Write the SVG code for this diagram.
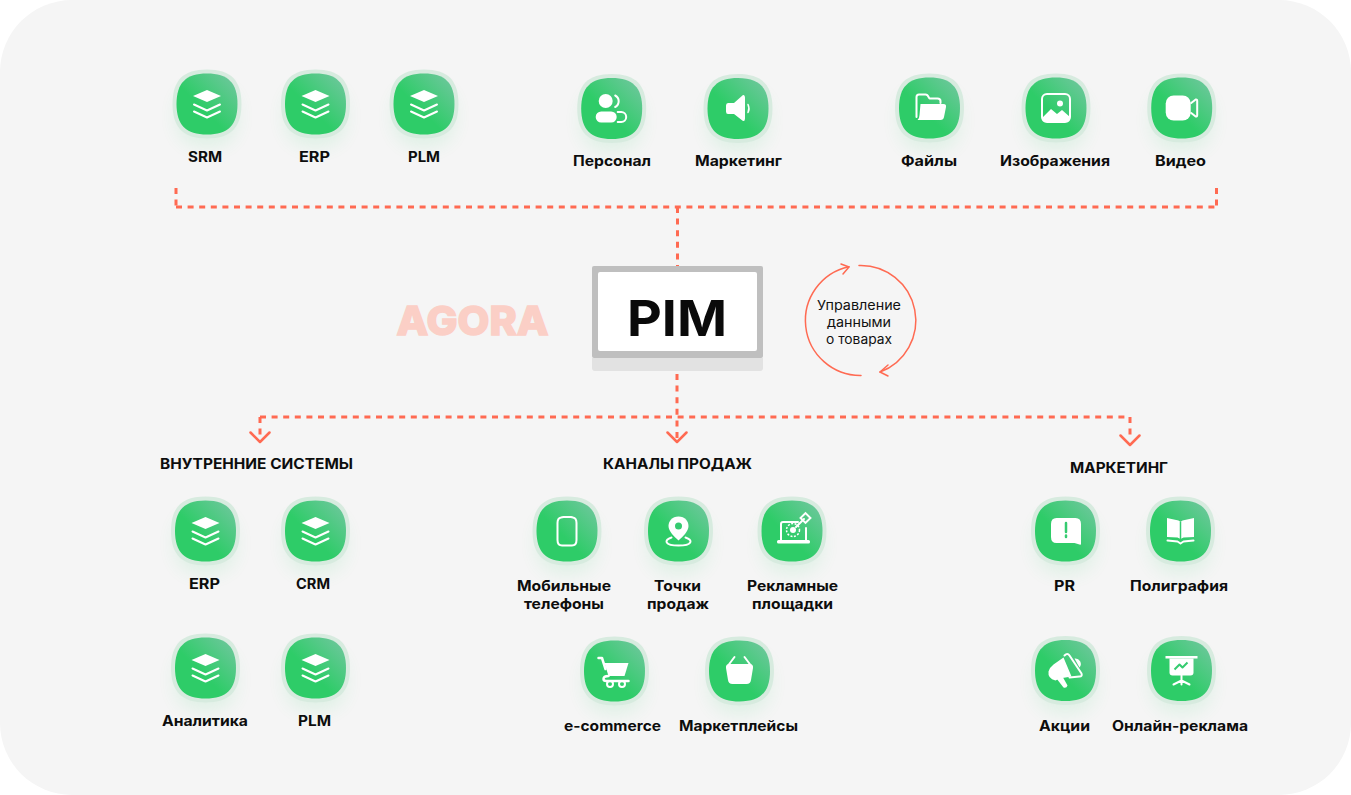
<svg xmlns="http://www.w3.org/2000/svg" width="1351" height="795" viewBox="0 0 1351 795">
<style>
.l{font:700 14px Inter,"Liberation Sans",sans-serif;fill:#0d0d0d;text-anchor:middle}
.d{fill:none;stroke:#ff6a52;stroke-width:3;stroke-dasharray:6 5.6}
.a{fill:none;stroke:#ff6a52;stroke-linecap:round;stroke-linejoin:round}
.w{fill:#fff}
.o{fill:none;stroke:#fff;stroke-width:2;stroke-linecap:round;stroke-linejoin:round}
.c{font:400 13px Inter,"Liberation Sans",sans-serif;fill:#111;text-anchor:middle}
</style>
<defs>
<linearGradient id="gr" x1="0.2" y1="0.8" x2="0.95" y2="0.05"><stop offset="0.3" stop-color="#2ecc68"/><stop offset="1" stop-color="#6fc79d"/></linearGradient>
<filter id="bl" x="-60%" y="-60%" width="220%" height="220%"><feGaussianBlur stdDeviation="9"/></filter>
<path id="sq" d="M0,-30.500C21,-30.500 30.500,-21 30.500,0C30.500,21 21,30.500 0,30.500C-21,30.500 -30.500,21 -30.500,0C-30.500,-21 -21,-30.500 0,-30.500Z"/>
<g id="blob">
<use href="#sq" fill="#2ecc68" opacity=".11" filter="url(#bl)" transform="translate(0,12)"/>
<use href="#sq" fill="#d7ebdf" transform="scale(1.13)"/>
<use href="#sq" fill="url(#gr)"/>
</g>
<g id="i-layers">
<path class="w" d="M0,-14L14,-8L0,-2L-14,-8Z"/>
<path class="o" d="M-13,0.500L0,6.500L13,0.500M-13,7.500L0,13.500L13,7.500"/>
</g>
<g id="i-person">
<circle class="w" cx="-6" cy="-7.500" r="7"/>
<rect class="w" x="-16" y="3" width="21" height="11" rx="5.500"/>
<path class="o" d="M3.500,-13A6.500,6.500 0 0 1 3.500,-1.500M6,3.500H9.500A5,5 0 0 1 9.500,13.500H6"/>
</g>
<g id="i-speaker">
<path class="w" d="M-10,-5.500H-4L5,-13.500Q7,-14 7,-11V10Q7,13 5,12.500L-4,5.500H-10Q-12,5.500 -12,3V-3Q-12,-5.500 -10,-5.500Z"/>
<path class="o" style="stroke-width:1.500" d="M10,-4Q12,0 10,4"/>
</g>
<g id="i-folder">
<path class="o" d="M-13,9V-11Q-13,-13.500 -10.500,-13.500H-4Q-2,-13.500 -1,-11L0,-9.500H8Q11,-9.500 11,-7V-5"/>
<path class="w" d="M-9,-4H14Q17,-4 16.500,-1L14.500,9Q14,12 11,12H-12Q-10,10 -10,7Z"/>
</g>
<g id="i-image">
<rect class="o" x="-14" y="-14" width="28" height="28" rx="5"/>
<circle class="w" cx="4" cy="-4.500" r="3"/>
<path class="w" d="M-14,10L-5,1L1,6L6,2L14,9V10Q14,14 10,14H-10Q-14,14 -14,10Z"/>
</g>
<g id="i-video">
<rect class="w" x="-16" y="-12.500" width="25" height="25" rx="8"/>
<path class="o" d="M9.500,-5L14,-8.500Q15.500,-9 15.500,-7V7Q15.500,9 14,8.500L9.500,5"/>
</g>
<g id="i-phone">
<path class="o" d="M-6,-13.500L-3.500,-14H4L6,-13.500Q9.500,-13 9.500,-8V9Q9.500,14.500 5,14.500H-5Q-9.500,14.500 -9.500,9V-8Q-9.500,-13 -6,-13.500Z"/>
</g>
<g id="i-pin">
<path class="w" d="M0,-14.500C-6.500,-14.500 -10,-9.500 -10,-5C-10,0.500 -4,6 0,9.500C4,6 10,0.500 10,-5C10,-9.500 6.500,-14.500 0,-14.500Z"/>
<circle cx="0" cy="-5" r="3.500" fill="#35cb70"/>
<path class="o" d="M-7,6.500C-15,9 -14,14.500 0,14.500C14,14.500 15,9 7,6.500"/>
</g>
<g id="i-laptop">
<path class="o" d="M-11,9V-7Q-11,-9 -9,-9H6M14,-3V9"/>
<rect class="w" x="-15" y="9" width="33" height="3.500" rx="1.500"/>
<circle class="w" cx="1" cy="-1" r="3"/>
<circle cx="1" cy="-1" r="6.500" fill="none" stroke="#fff" stroke-width="1.500" stroke-dasharray="2 1.500"/>
<path class="o" d="M4,-4L12,-12"/>
<rect x="10" y="-16.500" width="7" height="7" fill="none" stroke="#fff" stroke-width="2" transform="rotate(45 13.500 -13)"/>
</g>
<g id="i-cart">
<path class="o" style="stroke-width:2.500" d="M-16,-13H-12.500L-9,-2"/>
<path class="w" d="M-10,-8H14L10,5H-6Z"/>
<path class="o" style="stroke-width:2.500" d="M-6,5Q-11,5 -11,8Q-11,10 -8,10H14"/>
<circle cx="-4.500" cy="13" r="3" fill="none" stroke="#fff" stroke-width="2"/>
<circle cx="7.500" cy="13" r="3" fill="none" stroke="#fff" stroke-width="2"/>
</g>
<g id="i-basket">
<path class="w" d="M-10,-7H10Q14,-7 13.500,-3L11.500,9Q11,13 7,13H-7Q-11,13 -11.500,9L-13.500,-3Q-14,-7 -10,-7Z"/>
<path class="o" d="M-11,-6L-5,-14M11,-6L5,-14"/>
</g>
<g id="i-pr">
<path class="w" d="M-9,-13H10Q15.500,-13 15.500,-7V13Q15.500,14 14,13.500L9,12H-9Q-14.500,12 -14.500,6V-7Q-14.500,-13 -9,-13Z"/>
<path d="M0.500,-8V1M0.500,4.500V6" stroke="#35cb70" stroke-width="2.500" stroke-linecap="round"/>
</g>
<g id="i-book">
<path class="w" d="M-13.500,-13L-2,-10.500L0,-9L2,-10.500L13.500,-13V6L3,6.500L0,8L-3,6.500L-13.500,6Z"/>
<path d="M0,-9V8" stroke="#35cb70" stroke-width="1.500"/>
<path class="o" d="M-13,9.500L-3,10.500L0,12.500L3,10.500L13,9.500"/>
</g>
<g id="i-mega">
<path class="w" d="M-2,-13L6,6L-6,8L-10,10Q-18,8 -17,1Q-16,-3 -12,-6Z"/>
<path class="w" d="M-9,8L-3,6L2,15Q1,18 -2,17Z"/>
<path class="o" d="M-1,-15Q2,-18 4,-15L16,3Q17,6 14,6L4,7"/>
<path class="w" d="M9,-12A5.500,5.500 0 0 1 14,-3Z"/>
</g>
<g id="i-board">
<rect class="w" x="-16" y="-14.500" width="32" height="2.500"/>
<path class="w" d="M-12,-12H12V2Q12,5 9,5H-9Q-12,5 -12,2Z"/>
<path fill="none" stroke="#35cb70" stroke-width="2" stroke-linejoin="round" d="M-7,-1L-2,-6L1,-3L6,-8"/>
<path class="o" d="M0,5V14M-8,14L0,10L8,14"/>
</g>
</defs>

<rect width="1351" height="795" fill="#fff"/>
<rect x="0" y="0" width="1351" height="795" rx="72" fill="#f5f5f5"/>

<g id="connectors">
<path class="d" d="M176,188V207"/>
<path class="d" d="M1216.500,188V207"/>
<path class="d" d="M176,207H1216.500"/>
<path class="d" d="M677.500,207V266"/>
<path class="d" d="M677,374V440"/>
<path class="d" d="M260,417H1130"/>
<path class="d" d="M260,417V436"/>
<path class="d" d="M1130,417V436"/>
<path class="a" stroke-width="2.500" d="M250.500,432.500L260,442L269.500,432.500M667.500,432.500L677,442L686.500,432.500M1120.500,435.500L1130,445L1139.500,435.500"/>
<path class="a" stroke-width="1.500" d="M859,265.500A55,55 0 0 1 880,372M861,375.500A55,55 0 0 1 849,266.700"/>
<path class="a" stroke-width="1.500" d="M841,264L849,267L843,274M888,365L880,372L888,376"/>
</g>

<g id="pim">
<rect x="592" y="266" width="171" height="92" rx="2" fill="#bfbfbf"/>
<path d="M592,358H763V368Q763,371 760,371H595Q592,371 592,368Z" fill="#e2e2e2"/>
<rect x="598" y="272" width="159" height="79" rx="2" fill="#fff"/>
<text x="677" y="336" font-family="Inter,'Liberation Sans',sans-serif" font-weight="700" font-size="50" text-anchor="middle" textLength="100" lengthAdjust="spacingAndGlyphs" fill="#0a0a0a">PIM</text>
</g>
<g id="agora"><text x="472.500" y="334.500" font-family="Inter,'Liberation Sans',sans-serif" font-weight="800" font-size="40" text-anchor="middle" textLength="152" lengthAdjust="spacingAndGlyphs" fill="#fbcfc6" stroke="#fbcfc6" stroke-width="1.500">AGORA</text></g>
<g id="cycle-label">
<text class="c" x="859" y="310" textLength="84" lengthAdjust="spacingAndGlyphs">Управление</text>
<text class="c" x="859" y="327" textLength="64" lengthAdjust="spacingAndGlyphs">данными</text>
<text class="c" x="859" y="344" textLength="66" lengthAdjust="spacingAndGlyphs">о товарах</text>
</g>

<g id="n-srm"><use href="#blob" x="207" y="104"/><use href="#i-layers" x="207" y="104"/><text class="l" x="205" y="162" textLength="34" lengthAdjust="spacingAndGlyphs">SRM</text></g>
<g id="n-erp1"><use href="#blob" x="315.500" y="104"/><use href="#i-layers" x="315.500" y="104"/><text class="l" x="314.500" y="162" textLength="31" lengthAdjust="spacingAndGlyphs">ERP</text></g>
<g id="n-plm1"><use href="#blob" x="424" y="104"/><use href="#i-layers" x="424" y="104"/><text class="l" x="424" y="162" textLength="32" lengthAdjust="spacingAndGlyphs">PLM</text></g>
<g id="n-personal"><use href="#blob" x="611.700" y="108.500"/><use href="#i-person" x="611.700" y="108.500"/><text class="l" x="612" y="166" textLength="78" lengthAdjust="spacingAndGlyphs">Персонал</text></g>
<g id="n-marketing1"><use href="#blob" x="738" y="108.500"/><use href="#i-speaker" x="738" y="108.500"/><text class="l" x="738.500" y="166" textLength="87" lengthAdjust="spacingAndGlyphs">Маркетинг</text></g>
<g id="n-files"><use href="#blob" x="929.500" y="108"/><use href="#i-folder" x="929.500" y="108"/><text class="l" x="929" y="166" textLength="56" lengthAdjust="spacingAndGlyphs">Файлы</text></g>
<g id="n-images"><use href="#blob" x="1056" y="108"/><use href="#i-image" x="1056" y="108"/><text class="l" x="1055" y="166" textLength="110" lengthAdjust="spacingAndGlyphs">Изображения</text></g>
<g id="n-video"><use href="#blob" x="1181.700" y="108"/><use href="#i-video" x="1181.700" y="108"/><text class="l" x="1180.500" y="166" textLength="51" lengthAdjust="spacingAndGlyphs">Видео</text></g>

<g id="h-internal"><text class="l" x="256.500" y="469" textLength="193" lengthAdjust="spacingAndGlyphs">ВНУТРЕННИЕ СИСТЕМЫ</text></g>
<g id="h-sales"><text class="l" x="677.500" y="469" textLength="149" lengthAdjust="spacingAndGlyphs">КАНАЛЫ ПРОДАЖ</text></g>
<g id="h-marketing"><text class="l" x="1119" y="473" textLength="98" lengthAdjust="spacingAndGlyphs">МАРКЕТИНГ</text></g>

<g id="n-erp2"><use href="#blob" x="205.500" y="531"/><use href="#i-layers" x="205.500" y="531"/><text class="l" x="204.500" y="589" textLength="31" lengthAdjust="spacingAndGlyphs">ERP</text></g>
<g id="n-crm"><use href="#blob" x="315.500" y="531"/><use href="#i-layers" x="315.500" y="531"/><text class="l" x="313" y="589" textLength="34" lengthAdjust="spacingAndGlyphs">CRM</text></g>
<g id="n-analytics"><use href="#blob" x="205.500" y="668"/><use href="#i-layers" x="205.500" y="668"/><text class="l" x="205" y="726" textLength="86" lengthAdjust="spacingAndGlyphs">Аналитика</text></g>
<g id="n-plm2"><use href="#blob" x="315.500" y="668"/><use href="#i-layers" x="315.500" y="668"/><text class="l" x="314.500" y="726" textLength="33" lengthAdjust="spacingAndGlyphs">PLM</text></g>

<g id="n-mobile"><use href="#blob" x="567" y="531"/><use href="#i-phone" x="567" y="531"/><text class="l" x="564" y="590.500" textLength="94" lengthAdjust="spacingAndGlyphs">Мобильные</text><text class="l" x="564" y="609" textLength="80" lengthAdjust="spacingAndGlyphs">телефоны</text></g>
<g id="n-points"><use href="#blob" x="678.500" y="531"/><use href="#i-pin" x="678.500" y="531"/><text class="l" x="677.500" y="590.500" textLength="47" lengthAdjust="spacingAndGlyphs">Точки</text><text class="l" x="678" y="609" textLength="62" lengthAdjust="spacingAndGlyphs">продаж</text></g>
<g id="n-ads"><use href="#blob" x="792" y="531"/><use href="#i-laptop" x="792" y="531"/><text class="l" x="792.500" y="590.500" textLength="91" lengthAdjust="spacingAndGlyphs">Рекламные</text><text class="l" x="792.500" y="609" textLength="81" lengthAdjust="spacingAndGlyphs">площадки</text></g>
<g id="n-ecom"><use href="#blob" x="614.500" y="671"/><use href="#i-cart" x="614.500" y="671"/><text class="l" x="612.500" y="730.500" textLength="97" lengthAdjust="spacingAndGlyphs">e-commerce</text></g>
<g id="n-market"><use href="#blob" x="739.500" y="671"/><use href="#i-basket" x="739.500" y="671"/><text class="l" x="738.500" y="730.500" textLength="119" lengthAdjust="spacingAndGlyphs">Маркетплейсы</text></g>

<g id="n-pr"><use href="#blob" x="1065.500" y="531"/><use href="#i-pr" x="1065.500" y="531"/><text class="l" x="1064.500" y="590.500" textLength="21" lengthAdjust="spacingAndGlyphs">PR</text></g>
<g id="n-print"><use href="#blob" x="1180.500" y="531"/><use href="#i-book" x="1180.500" y="531"/><text class="l" x="1179" y="590.500" textLength="98" lengthAdjust="spacingAndGlyphs">Полиграфия</text></g>
<g id="n-promo"><use href="#blob" x="1065.500" y="670.500"/><use href="#i-mega" x="1065.500" y="670.500"/><text class="l" x="1064.500" y="730.500" textLength="51" lengthAdjust="spacingAndGlyphs">Акции</text></g>
<g id="n-online"><use href="#blob" x="1181.500" y="670.500"/><use href="#i-board" x="1181.500" y="670.500"/><text class="l" x="1180" y="730.500" textLength="136" lengthAdjust="spacingAndGlyphs">Онлайн-реклама</text></g>
</svg>
